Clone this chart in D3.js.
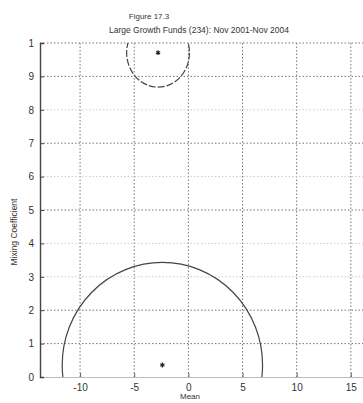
<!DOCTYPE html>
<html>
<head>
<meta charset="utf-8">
<script src="https://cdn.jsdelivr.net/npm/d3@7"></script>
<style>
  body { margin: 0; background: #fff; }
  text { font-family: "Liberation Sans", Arial, sans-serif; fill: #333; }
</style>
</head>
<body>
<div class="visHolder"></div>
<script>
let w = 363;
let h = 403;

// values
const xTicks = [-10, -5, 0, 5, 10, 15];
const yTicks = [0, 0.1, 0.2, 0.3, 0.4, 0.5, 0.6, 0.7, 0.8, 0.9, 1];
const yTickLabels = ["0", "1", "2", "3", "4", "5", "6", "7", "8", "9", "1"];
const means = [-2.8, -2.4];
const mixing = [0.971, 0.036];
const radiusMean = [2.9, 9.25];
const radiusMix = [0.103, 0.307];

const svg = d3.select(".visHolder")
              .append("svg")
              .attr("width", w)
              .attr("height", h);

const xScale = d3.scaleLinear()
                 .domain([-13.7, 16.4])
                 .range([40, 366]);

const yScale = d3.scaleLinear()
                 .domain([0, 1])
                 .range([377, 43]);

svg.append("clipPath")
   .attr("id", "plotClip")
   .append("rect")
   .attr("x", 40)
   .attr("y", 43)
   .attr("width", w - 40)
   .attr("height", 377 - 43);

// grid
svg.append("g")
   .selectAll("line")
   .data(xTicks)
   .enter()
   .append("line")
   .attr("x1", d => xScale(d))
   .attr("x2", d => xScale(d))
   .attr("y1", yScale(0))
   .attr("y2", yScale(1))
   .attr("stroke", "#777")
   .attr("stroke-width", 1)
   .attr("stroke-dasharray", "1.5,2");

svg.append("g")
   .selectAll("line")
   .data(yTicks.slice(1))
   .enter()
   .append("line")
   .attr("x1", xScale(-13.7))
   .attr("x2", w)
   .attr("y1", d => yScale(d))
   .attr("y2", d => yScale(d))
   .attr("stroke", d => [0.3, 0.4, 0.6, 0.8].includes(d) ? "#ccc" : "#777")
   .attr("stroke-width", 1)
   .attr("stroke-dasharray", "1.5,2");

// axes
const xAxis = d3.axisBottom(xScale)
                .tickValues(xTicks)
                .tickSize(-4)
                .tickPadding(7)
                .tickFormat(d => String(d));

svg.append("g")
   .attr("transform", "translate(0," + yScale(0) + ")")
   .attr("id", "x-axis")
   .call(xAxis)
   .call(g => g.select(".domain").attr("stroke", "#bbb"))
   .call(g => g.selectAll(".tick line").attr("stroke", "#666"))
   .call(g => g.selectAll("text").style("font-size", "10px").attr("fill", "#333"));

const yAxis = d3.axisLeft(yScale)
                .tickValues(yTicks)
                .tickSize(-4)
                .tickPadding(6)
                .tickFormat((d, i) => yTickLabels[i]);

svg.append("g")
   .attr("transform", "translate(" + xScale(-13.7) + ",0)")
   .attr("id", "y-axis")
   .call(yAxis)
   .call(g => g.select(".domain").attr("stroke", "#444").attr("stroke-width", 1.4))
   .call(g => g.selectAll(".tick line").attr("stroke", "#444"))
   .call(g => g.selectAll("text").style("font-size", "10px").attr("fill", "#333"));

// confidence circles
svg.append("g")
   .attr("clip-path", "url(#plotClip)")
   .selectAll("ellipse")
   .data(means)
   .enter()
   .append("ellipse")
   .attr("cx", d => xScale(d))
   .attr("cy", (d, i) => yScale(mixing[i]))
   .attr("rx", (d, i) => xScale(d + radiusMean[i]) - xScale(d))
   .attr("ry", (d, i) => yScale(0) - yScale(radiusMix[i]))
   .attr("fill", "none")
   .attr("stroke", "#444")
   .attr("stroke-width", 1.2)
   .attr("stroke-dasharray", (d, i) => i === 0 ? "7,2" : null);

// centres
svg.append("g")
   .selectAll("path")
   .data(means)
   .enter()
   .append("path")
   .attr("transform", (d, i) => "translate(" + xScale(d) + "," + yScale(mixing[i]) + ")")
   .attr("d", d3.symbol().type(d3.symbolAsterisk).size(16))
   .attr("stroke", "#222")
   .attr("stroke-width", 1.2)
   .attr("fill", "none");

// text
svg.append("text")
   .attr("x", 149)
   .attr("y", 19)
   .attr("text-anchor", "middle")
   .style("font-size", "8px")
   .text("Figure 17.3");

svg.append("text")
   .attr("x", 199)
   .attr("y", 33)
   .attr("text-anchor", "middle")
   .style("font-size", "8.5px")
   .text("Large Growth Funds (234): Nov 2001-Nov 2004");

svg.append("text")
   .attr("transform", "rotate(270)")
   .attr("x", -232)
   .attr("y", 17)
   .attr("text-anchor", "middle")
   .style("font-size", "8.5px")
   .text("Mixing Coefficient");

svg.append("text")
   .attr("x", 190)
   .attr("y", 399)
   .attr("text-anchor", "middle")
   .style("font-size", "8px")
   .text("Mean");
</script>
</body>
</html>
